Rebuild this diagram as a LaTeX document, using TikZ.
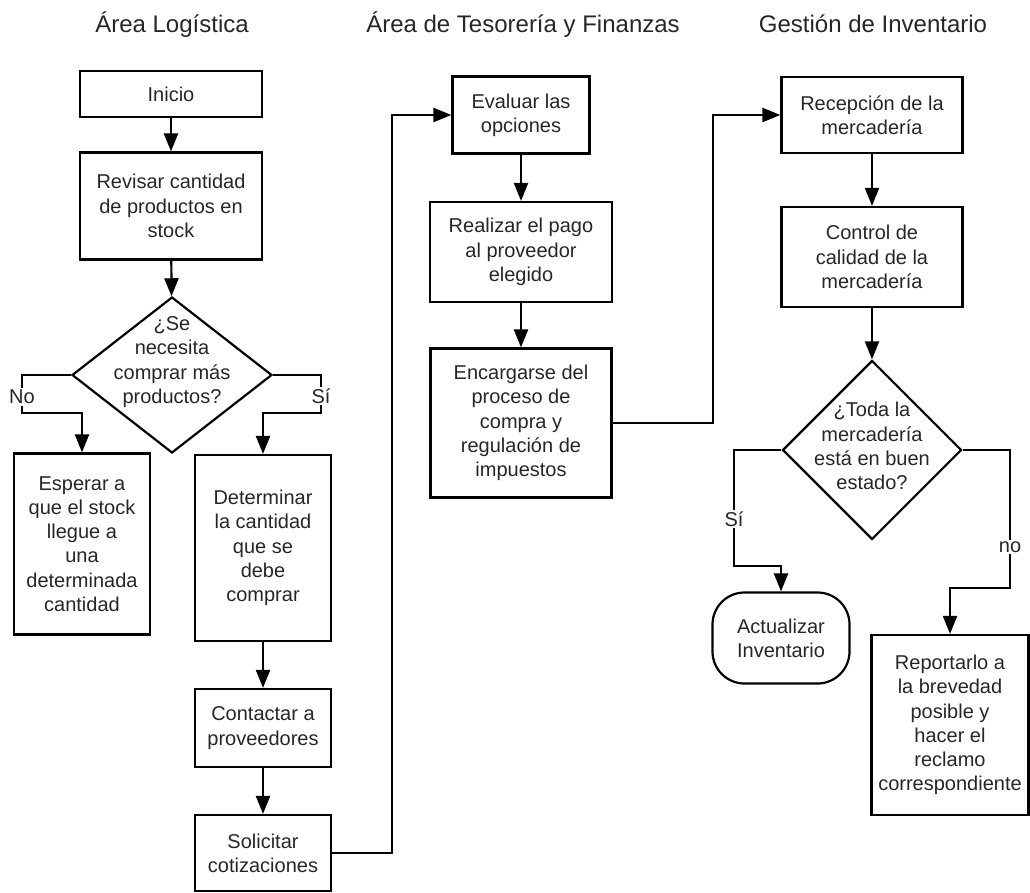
\documentclass[tikz,border=0pt]{standalone}
\usepackage{fontspec}
\setmainfont{Liberation Sans}
\usetikzlibrary{arrows.meta,shapes.geometric}

\begin{document}
\begin{tikzpicture}[x=1pt,y=-1pt,
  every node/.style={font=\fontsize{20}{24.3}\selectfont, text=black!85},
  lane/.style={font=\fontsize{24}{28}\selectfont, anchor=base},
  box/.style={draw=black, line width=2.2pt, align=center, inner sep=0pt},
  decision/.style={diamond, draw=black, line width=2.2pt, inner sep=0pt},
  terminal/.style={box, rounded corners=32pt},
  lbl/.style={fill=white, inner sep=2pt},
  arr/.style={draw=black, line width=2.2pt,
    -{Triangle[length=18pt,width=14pt]}}
]
\useasboundingbox (0,0) rectangle (1030,893);

% lane headings
\node[lane] (h1) at (172,33) {Área Logística};
\node[lane] (h2) at (523,33) {Área de Tesorería y Finanzas};
\node[lane] (h3) at (873,33) {Gestión de Inventario};

% logistics lane
\node[box, minimum width=182pt, minimum height=46pt]  (inicio)  at (171,94)  {Inicio};
\node[box, minimum width=182pt, minimum height=107pt] (revisar) at (171,206) {Revisar cantidad\\de productos en\\stock};
\node[decision, minimum width=200pt, minimum height=156pt] (q1) at (172,375) {};
\node[align=center] (q1t) at (172,362) {¿Se\\necesita\\comprar más\\productos?};
\node[box, minimum width=136pt, minimum height=181pt] (esperar)    at (82,544)  {Esperar a\\que el stock\\llegue a\\una\\determinada\\cantidad};
\node[box, minimum width=136pt, minimum height=186pt] (determinar) at (263,548) {Determinar\\la cantidad\\que se\\debe\\comprar};
\node[box, minimum width=136pt, minimum height=78pt]  (contactar)  at (263,728) {Contactar a\\proveedores};
\node[box, minimum width=136pt, minimum height=76pt]  (solicitar)  at (263,853) {Solicitar\\cotizaciones};

% treasury lane
\node[box, minimum width=137pt, minimum height=77pt]  (evaluar)    at (521,115) {Evaluar las\\opciones};
\node[box, minimum width=182pt, minimum height=100pt] (realizar)   at (521,252) {Realizar el pago\\al proveedor\\elegido};
\node[box, minimum width=181pt, minimum height=149pt] (encargarse) at (521,423) {Encargarse del\\proceso de\\compra y\\regulación de\\impuestos};

% inventory lane
\node[box, minimum width=181pt, minimum height=76pt]  (recepcion) at (872,115) {Recepción de la\\mercadería};
\node[box, minimum width=181pt, minimum height=100pt] (control)   at (872,257) {Control de\\calidad de la\\mercadería};
\node[decision, minimum width=179pt, minimum height=179pt] (q2) at (872,450) {};
\node[align=center] (q2t) at (872,446) {¿Toda la\\mercadería\\está en buen\\estado?};
\node[terminal, minimum width=137pt, minimum height=91pt] (actualizar) at (781,638) {Actualizar\\Inventario};
\node[box, minimum width=157pt, minimum height=180pt] (reportar) at (950,725) {Reportarlo a\\la brevedad\\posible y\\hacer el\\reclamo\\correspondiente};

% bend points
\coordinate (noL)  at (22,413);
\coordinate (siL)  at (321,413);
\coordinate (up1)  at (392,853);
\coordinate (up2)  at (713,423);
\coordinate (siR)  at (734,566);
\coordinate (noR)  at (1010,588);

% connectors
\draw[arr] (inicio) -- (revisar);
\draw[arr] (revisar) -- (q1);
\draw[arr] (q1.west) -| (noL) -| (esperar.north);
\draw[arr] (q1.east) -| (siL) -| (determinar.north);
\draw[arr] (determinar) -- (contactar);
\draw[arr] (contactar) -- (solicitar);
\draw[arr] (solicitar.east) -| (up1 |- evaluar.west) -- (evaluar.west);
\draw[arr] (evaluar) -- (realizar);
\draw[arr] (realizar) -- (encargarse);
\draw[arr] (encargarse.east) -| (up2 |- recepcion.west) -- (recepcion.west);
\draw[arr] (recepcion) -- (control);
\draw[arr] (control) -- (q2);
\draw[arr] (q2.west) -| (siR) -| (actualizar.north);
\draw[arr] (q2.east) -| (noR) -| (reportar.north);

% branch labels
\node[lbl] (lno)  at (22,397)   {No};
\node[lbl] (lsi)  at (321,396)  {Sí};
\node[lbl] (lsi2) at (734,519)  {Sí};
\node[lbl] (lno2) at (1010,547) {no};
\end{tikzpicture}
\end{document}
